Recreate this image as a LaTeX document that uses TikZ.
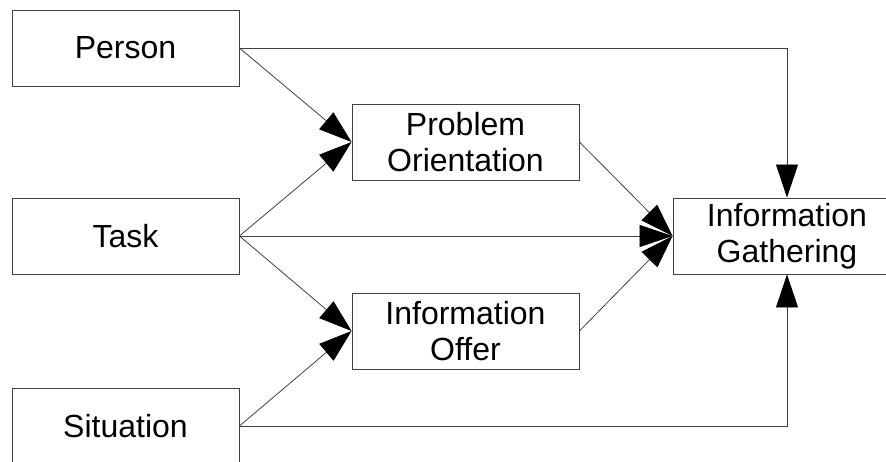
\documentclass[tikz,border=0pt]{standalone}
\usepackage{fontspec}
\setmainfont{Liberation Sans}
\usetikzlibrary{arrows.meta,positioning}
\definecolor{iline}{HTML}{404040}
\tikzset{
  >={Triangle[length=33pt,width=22pt,black]},
  ibox/.style={rectangle, draw=iline, line width=0.9pt, fill=white,
               minimum width=227pt, minimum height=76pt, inner sep=0pt,
               align=center, font=\fontsize{32}{36}\selectfont},
  iflow/.style={->, draw=iline, line width=0.8pt},
}
\begin{document}
\begin{tikzpicture}[x=1pt,y=1pt]

  % page frame
  \useasboundingbox (0,0) rectangle (886,-462);

  % influence factors
  \node[ibox] (person) at (125.5,-48)  {Person};
  \node[ibox] (task)   at (125.5,-236) {Task};
  \node[ibox] (situ)   at (125.5,-426) {Situation};

  % intermediate variables
  \node[ibox] (probl)  at (465.5,-142) {Problem\\Orientation};
  \node[ibox] (offer)  at (465.5,-331) {Information\\Offer};

  % outcome
  \node[ibox, minimum width=228pt] (gather) at (787,-236) {Information\\Gathering};

  % arrows into the middle boxes
  \draw[iflow] (person.east) -- (probl.west);
  \draw[iflow] (task.east)   -- (probl.west);
  \draw[iflow] (task.east)   -- (offer.west);
  \draw[iflow] (situ.east)   -- (offer.west);

  % arrows into the outcome
  \draw[iflow] (probl.east)  -- (gather.west);
  \draw[iflow] (task.east)   -- (gather.west);
  \draw[iflow] (offer.east)  -- (gather.west);
  \draw[iflow] (person.east) -| (gather.north);
  \draw[iflow] (situ.east)   -| (gather.south);

\end{tikzpicture}
\end{document}
